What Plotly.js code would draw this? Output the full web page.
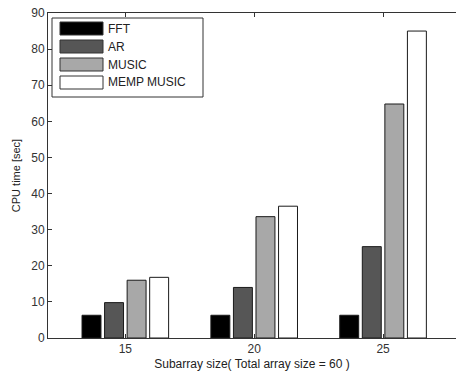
<!DOCTYPE html>
<html><head><meta charset="utf-8">
<script src="https://cdn.plot.ly/plotly-3.0.1.min.js"></script>
<style>html,body{margin:0;padding:0;background:#fff}#chart{width:456px;height:375px}</style>
</head><body><div id="chart"></div>
<script>
const categories = [15, 20, 25];
const seriesNames = ["FFT", "AR", "MUSIC", "MEMP MUSIC"];
const fftValues = [6.3, 6.3, 6.3];
const arValues = [9.8, 14.0, 25.3];
const musicValues = [16.0, 33.6, 64.8];
const mempMusicValues = [16.8, 36.5, 85.0];
const yTicks = [0, 10, 20, 30, 40, 50, 60, 70, 80, 90];

const colors = ["#000000", "#565656", "#a8a8a8", "#ffffff"];
const allValues = [fftValues, arValues, musicValues, mempMusicValues];

const traces = allValues.map((v, i) => ({
  type: "bar", x: categories, y: v, name: seriesNames[i],
  marker: {color: colors[i], line: {color: "#1a1a1a", width: 1}},
  showlegend: false, hoverinfo: "x+y+name"
}));

// custom legend (Matlab-style wide swatches)
const W = 456, H = 375, ml = 48, mr = 0, mt = 13, mb = 37;
const pw = W - ml - mr, ph = H - mt - mb;
const px = x => (x - ml) / pw;
const py = y => 1 - (y - mt) / ph;
const shapes = [{type: "rect", xref: "paper", yref: "paper",
  x0: px(52), x1: px(203), y0: py(97), y1: py(18),
  fillcolor: "#ffffff", line: {color: "#333", width: 1}}];
const annotations = [];
const rowTops = [22, 40, 58, 76];
seriesNames.forEach((n, i) => {
  shapes.push({type: "rect", xref: "paper", yref: "paper",
    x0: px(60), x1: px(103), y0: py(rowTops[i] + 13), y1: py(rowTops[i]),
    fillcolor: colors[i], line: {color: "#333", width: 1}});
  annotations.push({xref: "paper", yref: "paper", x: px(106), y: py(rowTops[i] + 6.5),
    xanchor: "left", yanchor: "middle", text: n, showarrow: false,
    font: {family: "Liberation Sans, Arial, sans-serif", size: 12, color: "#222"}});
});

const layout = {
  width: W, height: H,
  margin: {l: ml, r: mr, t: mt, b: mb, pad: 0},
  paper_bgcolor: "#fff", plot_bgcolor: "#fff",
  barmode: "group", bargap: 0.3, bargroupgap: 0.16,
  font: {family: "Liberation Sans, Arial, sans-serif", size: 12, color: "#333"},
  xaxis: {range: [12, 27.83], tickvals: categories, ticktext: categories.map(String),
    ticks: "inside", ticklen: 4, tickcolor: "#333", showline: true, linecolor: "#333",
    linewidth: 1, mirror: "ticks", showgrid: false, zeroline: false,
    title: {text: "Subarray size( Total array size = 60 )", standoff: 4,
      font: {size: 12, color: "#222"}}},
  yaxis: {range: [0, 90], tickvals: yTicks, ticks: "inside", ticklen: 4, tickcolor: "#333",
    showline: true, linecolor: "#333", linewidth: 1, showgrid: false, zeroline: false,
    title: {text: "CPU time [sec]", standoff: 8, font: {size: 11, color: "#222"}}},
  shapes: shapes, annotations: annotations
};
Plotly.newPlot("chart", traces, layout, {staticPlot: true, displayModeBar: false});
</script></body></html>
